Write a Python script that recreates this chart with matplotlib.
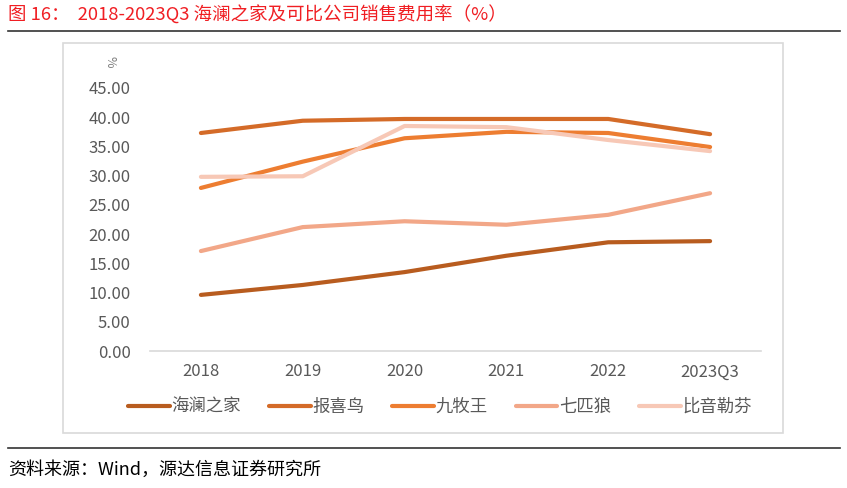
import matplotlib
matplotlib.use("Agg")
import matplotlib.pyplot as plt
from matplotlib.lines import Line2D
from matplotlib.patches import Rectangle

plt.rcParams["font.family"] = ["Noto Sans CJK SC", "DejaVu Sans"]

years = ["2018", "2019", "2020", "2021", "2022", "2023Q3"]
hlzj = [9.6, 11.3, 13.5, 16.3, 18.6, 18.8]
bxn = [37.3, 39.4, 39.7, 39.7, 39.7, 37.1]
jmw = [27.9, 32.4, 36.4, 37.5, 37.3, 34.9]
qpl = [17.1, 21.2, 22.2, 21.6, 23.3, 27.0]
bylf = [29.8, 29.9, 38.5, 38.3, 36.1, 34.2]

names = ["海澜之家", "报喜鸟", "九牧王", "七匹狼", "比音勒芬"]
series = [hlzj, bxn, jmw, qpl, bylf]
colors = ["#B85C1F", "#D46B28", "#ED7D31", "#F2A788", "#F7C8B6"]

W, H = 847, 488
fig = plt.figure(figsize=(W / 100, H / 100), dpi=100)

# frame of chart area
fig.patches.append(Rectangle((63 / W, 1 - 433 / H), 720 / W, 390 / H,
                             transform=fig.transFigure, fill=False,
                             edgecolor="#D9D9D9", linewidth=1.2))
# top and bottom rules
fig.add_artist(Line2D([8 / W, 840 / W], [1 - 31 / H, 1 - 31 / H],
                      color="#333333", linewidth=1.2))
fig.add_artist(Line2D([8 / W, 840 / W], [1 - 448 / H, 1 - 448 / H],
                      color="#333333", linewidth=1.2))

fig.text(8 / W, 1 - 15 / H, "图 16：  2018-2023Q3 海澜之家及可比公司销售费用率（%）",
         color="#F01E23", fontsize=13.3, va="center", ha="left")
fig.text(8 / W, 1 - 470 / H, "资料来源：Wind，源达信息证券研究所",
         color="#000000", fontsize=13, va="center", ha="left")

ax = fig.add_axes([150 / W, 1 - 351 / H, 611 / W, 263 / H])
x = range(len(years))
for name, vals, c in zip(names, series, colors):
    ax.plot(x, vals, color=c, linewidth=3, label=name, solid_capstyle="round")

ax.set_xlim(-0.5, len(years) - 0.5)
ax.set_ylim(0, 45)
ax.set_yticks([i * 5 for i in range(10)])
ax.set_yticklabels([f"{i * 5:.2f}" for i in range(10)])
ax.set_xticks(list(x))
ax.set_xticklabels(years)
ax.tick_params(length=0, labelsize=12, colors="#595959")
ax.tick_params(axis="y", pad=14)
ax.tick_params(axis="x", pad=9)
for lab in ax.get_xticklabels() + ax.get_yticklabels():
    lab.set_fontweight("light")
for s in ["top", "right", "left"]:
    ax.spines[s].set_visible(False)
ax.spines["bottom"].set_color("#D9D9D9")
ax.spines["bottom"].set_linewidth(1.2)

fig.text(110 / W, 1 - 62 / H, "%", rotation=270, fontsize=9,
         color="#7F7F7F", ha="center", va="center")

fig.legend(loc="center", bbox_to_anchor=(440 / W, 1 - 407 / H), ncol=5,
           frameon=False, prop={"size": 12.5, "weight": "light"},
           handlelength=2.4, handletextpad=0.1,
           columnspacing=1.6, labelcolor="#595959")

fig.savefig("out.png", dpi=100)
